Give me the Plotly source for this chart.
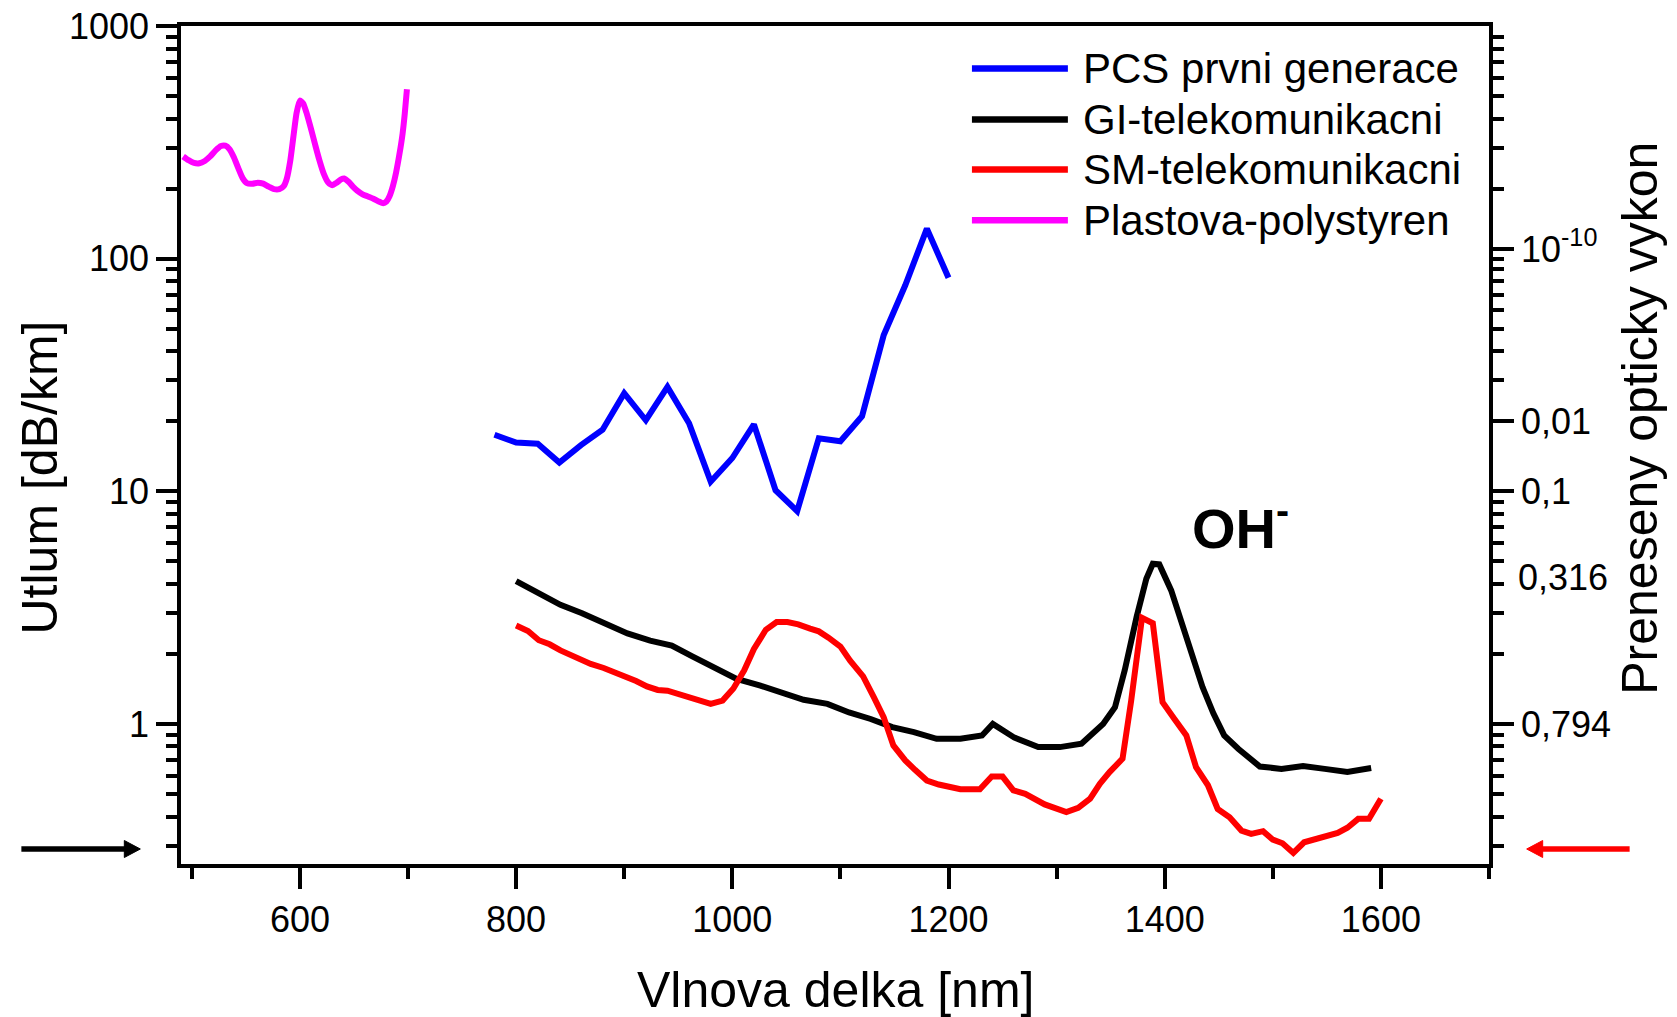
import math
import plotly.graph_objects as go

FONT = "Liberation Sans, Arial, Helvetica, sans-serif"

# ---------------- data ----------------
pcs_x = [780, 800, 820, 840, 860, 880, 900, 920, 940, 960, 980, 1000, 1020, 1040,
         1060, 1080, 1100, 1120, 1140, 1160, 1180, 1200]
pcs_y = [17.5, 16.2, 16.0, 13.3, 15.8, 18.4, 26.4, 20.2, 28.1, 19.6, 11.0, 13.9, 19.4,
         10.1, 8.22, 16.9, 16.4, 21.0, 46.8, 76.8, 134.6, 82.8]

gi_x = [800, 821, 841, 861, 881, 903, 924, 944, 963, 984, 1004, 1026, 1046, 1066, 1088,
        1108, 1128, 1148, 1168, 1189, 1211, 1231, 1241, 1249, 1261, 1283, 1303, 1323,
        1343, 1354, 1363, 1374, 1383, 1389, 1395, 1406, 1421, 1435, 1445, 1455, 1468,
        1488, 1508, 1528, 1548, 1569, 1591]
gi_y = [4.11, 3.63, 3.25, 2.99, 2.71, 2.45, 2.28, 2.17, 1.95, 1.75, 1.56, 1.46, 1.36,
        1.27, 1.22, 1.12, 1.05, 0.969, 0.922, 0.863, 0.863, 0.892, 1.0, 0.953, 0.873,
        0.795, 0.795, 0.822, 1.0, 1.18, 1.70, 2.88, 4.21, 4.88, 4.85, 3.75, 2.28, 1.44,
        1.11, 0.893, 0.782, 0.656, 0.641, 0.659, 0.641, 0.621, 0.646]

sm_x = [800, 811, 821, 831, 841, 851, 869, 881, 891, 901, 911, 921, 931, 940, 951, 961,
        971, 980, 991, 1001, 1011, 1020, 1031, 1041, 1051, 1061, 1072, 1080, 1089, 1100,
        1109, 1121, 1131, 1140, 1149, 1160, 1169, 1180, 1191, 1200, 1211, 1229, 1240,
        1250, 1260, 1271, 1289, 1309, 1320, 1331, 1340, 1349, 1361, 1369, 1379, 1389,
        1398, 1409, 1420, 1429, 1440, 1449, 1460, 1471, 1480, 1491, 1500, 1509, 1519,
        1529, 1546, 1560, 1569, 1579, 1589, 1600]
sm_y = [2.65, 2.51, 2.29, 2.20, 2.07, 1.97, 1.81, 1.74, 1.67, 1.58, 1.53, 1.45, 1.40,
        1.39, 1.34, 1.28, 1.24, 1.22, 1.26, 1.42, 1.70, 2.10, 2.54, 2.74, 2.74, 2.68,
        2.57, 2.50, 2.35, 2.15, 1.87, 1.60, 1.30, 1.07, 0.808, 0.697, 0.635, 0.571,
        0.549, 0.535, 0.524, 0.524, 0.594, 0.594, 0.518, 0.501, 0.451, 0.418, 0.436,
        0.477, 0.553, 0.621, 0.709, 1.26, 2.86, 2.71, 1.24, 1.05, 0.893, 0.652, 0.545,
        0.431, 0.397, 0.348, 0.337, 0.346, 0.318, 0.307, 0.279, 0.310, 0.326, 0.340,
        0.358, 0.391, 0.391, 0.477]

ps_x = [492, 497, 502, 507, 512, 517, 522, 527, 531, 535, 539, 543, 547, 551, 556, 561,
        566, 571, 576, 581, 585, 588, 591, 594, 597, 600, 603, 606, 610, 614, 618, 622,
        626, 630, 634, 638, 641, 645, 649, 653, 658, 663, 668, 673, 677, 680, 683, 686,
        689, 692, 695, 697, 699]
ps_y = [275, 265, 258, 257, 263, 275, 292, 305, 306, 295, 272, 245, 222, 211, 210, 212,
        210, 204, 199, 199, 205, 222, 262, 335, 425, 478, 465, 425, 365, 310, 265, 232,
        213, 207, 212, 219, 221, 214, 204, 196, 189, 185, 181, 176, 173, 176, 186, 205,
        235, 280, 345, 420, 535]

series_names = ["PCS prvni generace", "GI-telekomunikacni", "SM-telekomunikacni",
                "Plastova-polystyren"]
series_colors = ["#0000FF", "#000000", "#FF0000", "#FF00FF"]

# axis ticks
x_major = [600, 800, 1000, 1200, 1400, 1600]
x_minor = [500, 700, 900, 1100, 1300, 1500, 1700]
y_major = [1, 10, 100, 1000]
y_major_text = ["1", "10", "100", "1000"]
y_minor = [0.3, 0.4, 0.5, 0.6, 0.7, 0.8, 0.9, 2, 3, 4, 5, 6, 7, 8, 9,
           20, 30, 40, 50, 60, 70, 80, 90, 200, 300, 400, 500, 600, 700, 800, 900]
y2_major = [110, 20, 10, 1]
y2_major_text = ["10<sup>-10</sup>", "0,01", "0,1", "0,794"]
y2_minor = [0.3, 0.4, 0.5, 0.6, 0.7, 0.8, 0.9, 2, 3, 4, 5, 6, 7, 8, 9,
            30, 40, 50, 60, 70, 80, 90, 100, 200, 300, 400, 500, 600, 700, 800, 900]
y2_extra_label = "0,316"

Y_RANGE = [math.log10(0.25), 3]
X_RANGE = [490, 1700]

# ---------------- figure ----------------
fig = go.Figure()
for xs, ys, nm, col, shape in [
    (pcs_x, pcs_y, series_names[0], series_colors[0], "linear"),
    (gi_x, gi_y, series_names[1], series_colors[1], "linear"),
    (sm_x, sm_y, series_names[2], series_colors[2], "linear"),
    (ps_x, ps_y, series_names[3], series_colors[3], "spline"),
]:
    fig.add_trace(go.Scatter(x=xs, y=ys, mode="lines", name=nm, showlegend=False,
                             line=dict(color=col, width=6, shape=shape,
                                       smoothing=0.6 if shape == "spline" else None)))

# dummy trace so that the right axis is drawn
fig.add_trace(go.Scatter(x=[None], y=[None], yaxis="y2", showlegend=False,
                         hoverinfo="skip"))

axis_common = dict(showgrid=False, zeroline=False, showline=True, linecolor="black",
                   linewidth=3.5, ticks="outside", ticklen=21, tickwidth=3.5,
                   automargin=False, title=dict(text=None),
                   tickcolor="black", tickfont=dict(family=FONT, size=36, color="black"))

fig.update_layout(
    template="none",
    width=1677, height=1017,
    margin=dict(l=181, r=188, t=26, b=153, pad=0),
    paper_bgcolor="white", plot_bgcolor="white",
    font=dict(family=FONT, color="black"),
    showlegend=False,
    xaxis=dict(range=X_RANGE, tickmode="array", tickvals=x_major,
               ticktext=[str(v) for v in x_major], mirror=True,
               minor=dict(tickmode="array", tickvals=x_minor, ticks="outside",
                          ticklen=11, tickwidth=3.5, tickcolor="black", showgrid=False),
               **axis_common),
    yaxis=dict(type="log", range=Y_RANGE, tickmode="array", tickvals=y_major,
               ticktext=y_major_text, mirror=True,
               minor=dict(tickmode="array", tickvals=y_minor, ticks="outside",
                          ticklen=11, tickwidth=3.5, tickcolor="black", showgrid=False),
               **axis_common),
    yaxis2=dict(type="log", range=Y_RANGE, overlaying="y", side="right", anchor="x",
                tickmode="array", tickvals=y2_major, ticktext=y2_major_text,
                minor=dict(tickmode="array", tickvals=y2_minor, ticks="outside",
                           ticklen=11, tickwidth=3.5, tickcolor="black", showgrid=False),
                **axis_common),
)

W = 1308.6
H = 838.3
def px(x):
    return (x - 180.7) / W
def py(y):
    return (864.0 - y) / H

annotations = []
# axis titles
annotations.append(dict(text="Vlnova delka [nm]", x=0.5, y=py(990), xref="paper",
                        yref="paper", xanchor="center", yanchor="middle",
                        showarrow=False, font=dict(family=FONT, size=50)))
annotations.append(dict(text="Utlum [dB/km]", x=px(40), y=py(477), xref="paper",
                        yref="paper", xanchor="center", yanchor="middle", textangle=-90,
                        showarrow=False, font=dict(family=FONT, size=50)))
annotations.append(dict(text="Preneseny opticky vykon", x=px(1641), y=py(418),
                        xref="paper", yref="paper", xanchor="center", yanchor="middle",
                        textangle=-90, showarrow=False, font=dict(family=FONT, size=50)))
# extra right label
annotations.append(dict(text=y2_extra_label, x=px(1516), y=py(577), xref="paper",
                        yref="paper", xanchor="left", yanchor="middle", showarrow=False,
                        font=dict(family=FONT, size=36)))
# OH- label
annotations.append(dict(text="<b>OH<sup>-</sup></b>", x=1423,
                        y=3 - (562 - 25.7) / 232.6, xref="x", yref="y",
                        xanchor="left", yanchor="bottom", showarrow=False,
                        font=dict(family=FONT, size=56)))

shapes = []
# arrows (line + triangular head), paper coordinates
def arrow(tail_x, tip_x, y, color):
    d = 1 if tip_x > tail_x else -1
    base_x = tip_x - d * 16
    shapes.append(dict(type="line", xref="paper", yref="paper",
                       x0=px(tail_x), x1=px(base_x + d * 2), y0=py(y), y1=py(y),
                       line=dict(color=color, width=5.5)))
    path = "M {:.5f},{:.5f} L {:.5f},{:.5f} L {:.5f},{:.5f} Z".format(
        px(tip_x), py(y), px(base_x), py(y - 8.5), px(base_x), py(y + 8.5))
    shapes.append(dict(type="path", xref="paper", yref="paper", path=path,
                       fillcolor=color, line=dict(color=color, width=1)))

arrow(21, 140, 849, "black")
arrow(1630, 1527, 849, "#FF0000")

# legend (manual)
leg_rows = [68.3, 119.3, 169.3, 220.0]
for nm, col, ry in zip(series_names, series_colors, leg_rows):
    shapes.append(dict(type="line", xref="paper", yref="paper", x0=px(972), x1=px(1068),
                       y0=py(ry), y1=py(ry), line=dict(color=col, width=6.5)))
    annotations.append(dict(text=nm, x=px(1081), y=py(ry), xref="paper", yref="paper",
                            xanchor="left", yanchor="middle", showarrow=False,
                            font=dict(family=FONT, size=42)))

fig.update_layout(annotations=annotations, shapes=shapes)

fig.write_html("out.html")
